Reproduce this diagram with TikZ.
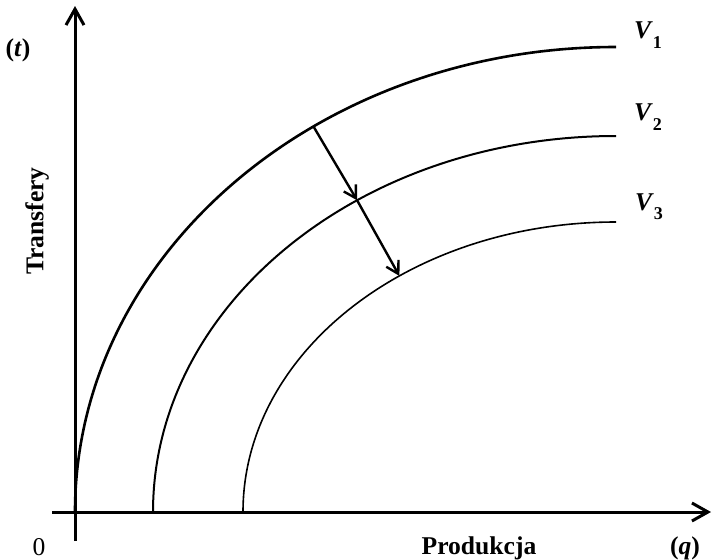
\documentclass[tikz,border=0pt]{standalone}
\usepackage{fontspec}
\setmainfont{Liberation Serif}
\usetikzlibrary{positioning,arrows.meta}
\newcommand{\vlab}[1]{\textit{V}\raisebox{-0.8ex}{\fontsize{9}{10}\selectfont #1}}

\begin{document}
\begin{tikzpicture}[
  x=0.5pt, y=0.5pt,
  axisline/.style={line width=1.5pt, -{Straight Barb[length=8pt,width=9pt]}},
  curve/.style={line width=1pt},
  shiftarrow/.style={line width=1.2pt, -{Straight Barb[length=6pt,width=7pt]}},
  lab/.style={font=\fontsize{12.8}{15}\selectfont\bfseries, inner sep=0pt}]

\useasboundingbox (0,0) rectangle (712,559);

\coordinate (o) at (75,47);
\coordinate (c) at (616,47);
\coordinate (ybot) at (75,18);
\coordinate (ytop) at (75,553);
\coordinate (xl) at (52,47);
\coordinate (xr) at (711,47);
\coordinate (s2) at (153,47);
\coordinate (s3) at (243,47);

\draw[axisline] (ybot) -- (ytop);
\draw[axisline] (xl) -- (xr);

\draw[curve, line width=1.3pt] (o) arc[start angle=180, end angle=90, x radius=541, y radius=465] coordinate (e1);
\draw[curve] (s2) arc[start angle=180, end angle=90, x radius=463, y radius=376] coordinate (e2);
\draw[curve, line width=0.8pt] (s3) arc[start angle=180, end angle=90, x radius=373, y radius=290] coordinate (e3);

\path (c) ++(124:541 and 465) coordinate (a1);
\path (c) ++(124:463 and 376) coordinate (a2);
\path (c) ++(125.5:373 and 290) coordinate (a3);
\draw[shiftarrow] (a1) -- (a2);
\draw[shiftarrow] (a2) -- (a3);

\node[lab] (v1) at (648,524) {\vlab{1}};
\node[lab] (v2) at (648,442) {\vlab{2}};
\node[lab] (v3) at (649,352) {\vlab{3}};

\node[lab] (t) at (18,509) {(\textit{t})};
\node[lab, rotate=90] (tr) at (37,338) {Transfery};
\node[font=\fontsize{12.8}{15}\selectfont, inner sep=0pt] (zero) at (39,12) {0};
\node[lab] (prod) at (479,11) {Produkcja};
\node[lab] (q) at (685,11) {(\textit{q})};

\end{tikzpicture}
\end{document}
